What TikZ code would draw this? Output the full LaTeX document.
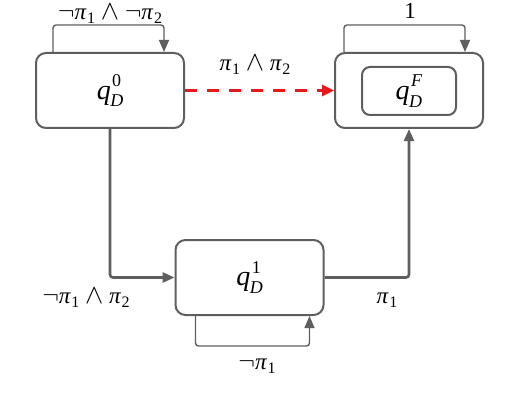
\documentclass[tikz,border=0pt]{standalone}
\usepackage{fontspec}
\setmainfont{Liberation Serif}
\usetikzlibrary{arrows.meta}
\definecolor{edgegray}{HTML}{5E5E5E}
\definecolor{dashred}{HTML}{E8191A}
\newcommand{\mypi}[1]{\textit{π}\kern0.5pt\raisebox{-0.35ex}{\fontsize{16}{16}\selectfont #1}}
\newcommand{\myq}[2]{\textit{q}\kern-0.5pt\raisebox{-0.6ex}{\fontsize{18}{18}\selectfont\textit{D}}\kern-11pt\raisebox{1.0ex}{\fontsize{18}{18}\selectfont #1}\kern#2}
\newcommand{\myneg}{$\neg$}
\newcommand{\myand}{\ \scalebox{1.1}{$\wedge$}\ }
\begin{document}
\begin{tikzpicture}[x=1pt,y=-1pt,
  state/.style={draw=edgegray,line width=2pt,rounded corners=10pt,minimum width=148pt,minimum height=75pt,inner sep=0pt,font=\fontsize{28}{30}\selectfont},
  inner/.style={draw=edgegray,line width=2pt,rounded corners=8pt,minimum width=94pt,minimum height=48pt,inner sep=0pt,font=\fontsize{28}{30}\selectfont},
  mainarrow/.style={draw=edgegray,line width=2.6pt,rounded corners=3pt,-{Triangle[length=12pt,width=10pt]}},
  looparrow/.style={draw=edgegray,line width=1.4pt,rounded corners=3pt,-{Triangle[length=12pt,width=10pt]}},
  lbl/.style={font=\fontsize{23}{26}\selectfont,inner sep=0pt,text height=14pt,text depth=5pt}
]
\useasboundingbox (0,0) rectangle (520,404);
\node[state] (q0) at (110,90.5) {\myq{0}{2pt}};
\node[state] (qf) at (409,90.5) {};
\node[inner] (qfi) at (409,91) {\myq{\textit{F}}{0pt}};
\node[state] (q1) at (249.5,277.5) {\myq{1}{2pt}};
% self loops
\draw[looparrow] ([xshift=-57pt]q0.north) -- ++(0,-27) -| ([xshift=54pt]q0.north);
\node[lbl] (l0) at (110,15) {\myneg\mypi{1}\myand\myneg\mypi{2}};
\draw[looparrow] ([xshift=-65pt]qf.north) -- ++(0,-27) -| ([xshift=56pt]qf.north);
\node[lbl] (lf) at (410,14) {1};
\draw[looparrow] ([xshift=-54pt]q1.south) -- ++(0,30) -| ([xshift=60pt]q1.south);
\node[lbl] (l1) at (257,365) {\myneg\mypi{1}};
% transitions
\draw[dashred,line width=2.6pt,dash pattern=on 12pt off 10pt,-{Triangle[length=12pt,width=11pt]}] (q0.east) -- (qf.west);
\node[lbl] (l01) at (255,66) {\mypi{1}\myand\mypi{2}};
\draw[mainarrow] (q0.south) |- (q1.west);
\node[lbl] (l02) at (86,299) {\myneg\mypi{1}\myand\mypi{2}};
\draw[mainarrow] (q1.east) -| (qf.south);
\node[lbl] (l12) at (387,299) {\mypi{1}};
\end{tikzpicture}
\end{document}
